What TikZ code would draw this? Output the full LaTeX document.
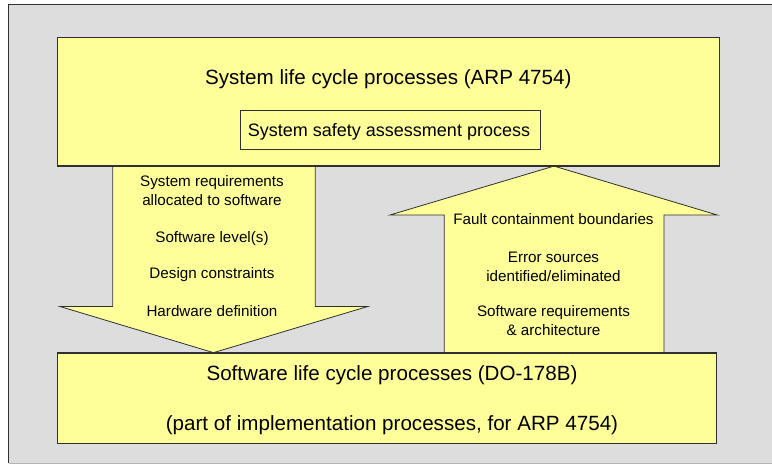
\documentclass[tikz,border=0pt]{standalone}
\usepackage{fontspec}
\setmainfont{Liberation Sans}
\definecolor{paleyellow}{HTML}{FFFF99}
\definecolor{panelgray}{HTML}{DDDDDD}
\definecolor{edge}{HTML}{303030}
\definecolor{softedge}{HTML}{B4B4B4}
\tikzset{
  procbox/.style={draw=edge, line width=0.8pt, fill=paleyellow, inner sep=0pt},
  bigarrow/.style={draw=edge, line width=0.8pt, fill=paleyellow, line join=miter},
  bigtxt/.style={anchor=base, inner sep=0pt, font=\fontsize{20.6}{24}\selectfont},
  midtxt/.style={anchor=base, inner sep=0pt, font=\fontsize{18}{21}\selectfont},
  smalltxt/.style={anchor=base, inner sep=0pt, font=\fontsize{15.2}{18}\selectfont},
}
\begin{document}
\begin{tikzpicture}[x=1pt,y=-1pt]
  \useasboundingbox (0,0) rectangle (772,464);
  % grey panel, running off the right edge
  \fill[panelgray] (8.5,4.5) rectangle (774,463);
  \draw[edge, line width=0.8pt] (774,4.5) -- (8.5,4.5) -- (8.5,463);
  \draw[softedge, line width=0.8pt] (8.5,463) -- (774,463);

  % process boxes (shapes only; labels placed separately)
  \node[procbox, minimum width=662pt, minimum height=128pt] (sys) at (388.3,101.7) {};
  \node[procbox, minimum width=659.4pt, minimum height=90.7pt] (sw) at (387,398.4) {};

  % downward flow: system -> software
  \coordinate (dnL) at (112.7,306.5);
  \coordinate (dnR) at (315.3,306.5);
  \coordinate (dnTip) at (213.5,352);
  \draw[bigarrow] (112.7,0 |- sys.south) -- (dnL) -- (60,306.5) -- (dnTip |- sw.north)
        -- (367.7,306.5) -- (dnR) -- (315.3,0 |- sys.south);

  % upward flow: software -> system
  \coordinate (upL) at (444.3,215);
  \coordinate (upR) at (664,215);
  \coordinate (upTip) at (554,166.7);
  \draw[bigarrow] (444.3,0 |- sw.north) -- (upL) -- (390,215) -- (upTip |- sys.south)
        -- (717.3,215) -- (upR) -- (664,0 |- sw.north);

  % redraw box outlines over the arrow ends
  \draw[edge, line width=0.8pt] (sys.south west) -- (sys.south east);
  \draw[edge, line width=0.8pt] (sw.north west) -- (sw.north east);

  % safety assessment box inside the system box
  \node[procbox, minimum width=300.3pt, minimum height=39pt] (ssa) at (390.2,129.8) {};

  % labels
  \node[bigtxt] (sysT) at (388.3,84.3) {System life cycle processes (ARP 4754)};
  \node[midtxt] (ssaT) at (389,136.7) {System safety assessment process};

  \node[smalltxt] (d1) at (212,186.7) {System requirements};
  \node[smalltxt] (d2) at (212,205) {allocated to software};
  \node[smalltxt] (d3) at (212,242.3) {Software level(s)};
  \node[smalltxt] (d4) at (212,278) {Design constraints};
  \node[smalltxt] (d5) at (212,316) {Hardware definition};

  \node[smalltxt] (u1) at (553.5,224.3) {Fault containment boundaries};
  \node[smalltxt] (u2) at (553.5,262.7) {Error sources};
  \node[smalltxt] (u3) at (553.5,281) {identified/eliminated};
  \node[smalltxt] (u4) at (553.5,316.7) {Software requirements};
  \node[smalltxt] (u5) at (553.5,335.7) {\& architecture};

  \node[bigtxt] (swT1) at (392,380) {Software life cycle processes (DO-178B)};
  \node[bigtxt] (swT2) at (392,430) {(part of implementation processes, for ARP 4754)};
\end{tikzpicture}
\end{document}
